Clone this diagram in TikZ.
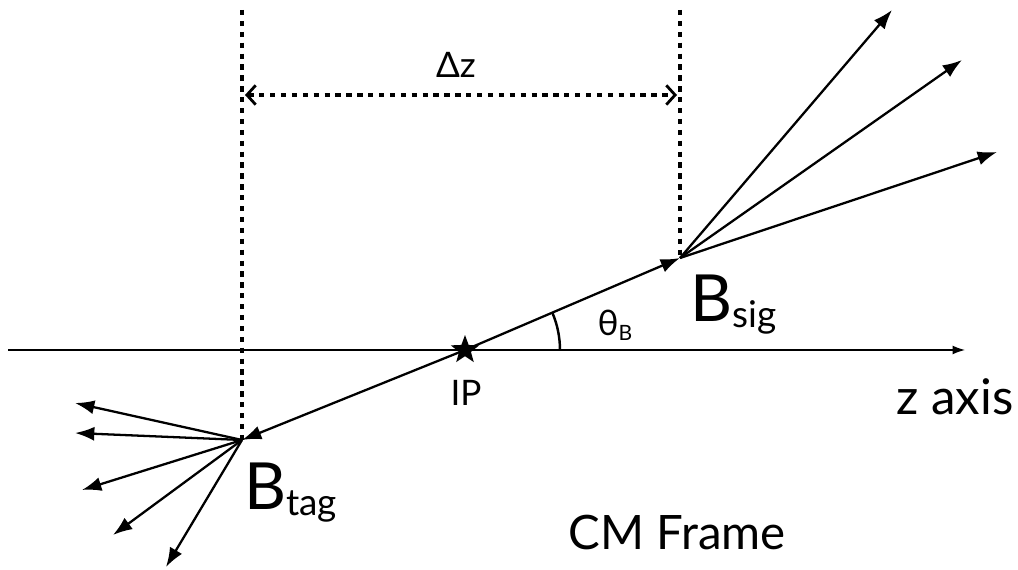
\documentclass[tikz,border=0pt]{standalone}
\usepackage{fontspec}
\setmainfont{Lato}
\usetikzlibrary{arrows.meta,shapes.geometric}
\newcommand{\bmeson}[1]{{\fontsize{37}{40}\selectfont B}\raisebox{-3pt}{\fontsize{21}{24}\selectfont #1}}
\tikzset{
 track/.style={-{Latex[length=11pt,width=8pt]}, line width=1.3pt},
 axisline/.style={-{Latex[length=7pt,width=5pt]}, line width=0.7pt},
 dotline/.style={line width=2pt, dash pattern=on 3pt off 3.2pt},
 span/.style={dotline, {Straight Barb[length=5pt,width=11pt,line width=1.6pt]}-{Straight Barb[length=5pt,width=11pt,line width=1.6pt]}},
 label/.style={inner sep=0pt, font=\fontsize{20}{24}\selectfont}
}
\begin{document}
\begin{tikzpicture}[x=0.02cm,y=0.02cm]
\useasboundingbox (0,0) rectangle (1018,570);
% vertices
\coordinate (ip) at (465,220);
\coordinate (tag) at (242,130);
\coordinate (sig) at (680,312);
\coordinate (zl) at (8,220);
\coordinate (zr) at (965,220);
\coordinate (tagtop) at (242,560);
\coordinate (sigtop) at (680,560);
\coordinate (dzl) at (245,475);
\coordinate (dzr) at (677,475);
% z axis
\draw[axisline] (zl) -- (zr);
% decay lengths
\draw[dotline] (tagtop) -- (tag);
\draw[dotline] (sigtop) -- (sig);
\draw[span] (dzl) -- (dzr);
% B flight
\draw[track] (ip) -- (sig);
\draw[track] (ip) -- (tag);
\node[star, star points=5, star point ratio=2.4, fill, inner sep=0pt, minimum size=17pt] (ipstar) at (ip) {};
% angle
\draw[line width=1.4pt] (ip) ++(1.9cm,0) arc[start angle=0, end angle=23, radius=1.9cm];
% daughters of B sig
\foreach \x/\y [count=\i] in {892/560,962/510,997/418}
  \coordinate (s\i) at (\x,\y);
\foreach \i in {1,2,3}
  \draw[track] (sig) -- (s\i);
% daughters of B tag
\foreach \x/\y [count=\i] in {75/167,75/137,82/80,113/35,166/3}
  \coordinate (t\i) at (\x,\y);
\foreach \i in {1,...,5}
  \draw[track] (tag) -- (t\i);
% labels
\node[label] (dz) at (456,505) {Δz};
\node[label] (theta) at (615,245) {θ\raisebox{-3pt}{\fontsize{12}{14}\selectfont B}};
\node[label] (iplabel) at (466,177) {IP};
\node[label, font=\fontsize{28}{32}\selectfont] (zlabel) at (955,173) {z axis};
\node[label, font=\fontsize{27}{32}\selectfont] (frame) at (677,37) {CM Frame};
\node[inner sep=0pt, anchor=base west] (siglabel) at (690,248) {\bmeson{sig}};
\node[inner sep=0pt, anchor=base west] (taglabel) at (244,60) {\bmeson{tag}};
\end{tikzpicture}
\end{document}
